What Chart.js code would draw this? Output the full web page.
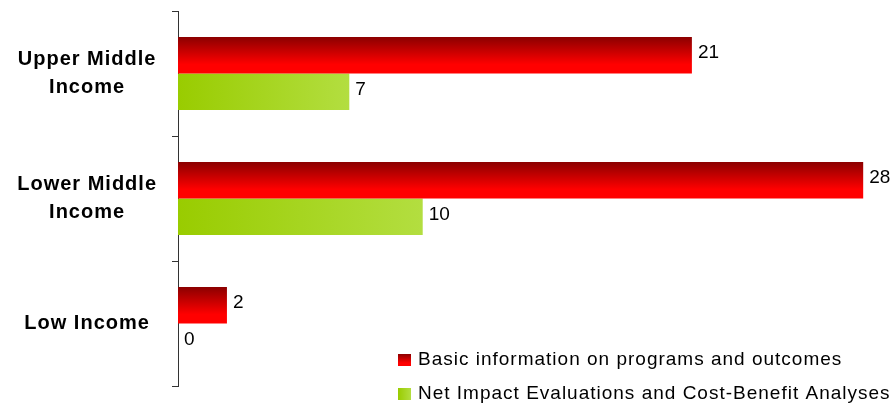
<!DOCTYPE html>
<html>
<head>
<meta charset="utf-8">
<script src="https://cdn.jsdelivr.net/npm/chart.js@4"></script>
<style>
  html, body { margin: 0; padding: 0; background: #fff; }
  #wrap { width: 896px; height: 405px; }
</style>
</head>
<body>
<div id="wrap"><canvas id="chart"></canvas></div>
<script>
// Data
const categories = [['Upper Middle', 'Income'], ['Lower Middle', 'Income'], 'Low Income'];
const basicInfo = [21, 28, 2];
const netImpact = [7, 10, 0];
const seriesNames = [
    'Basic information on programs and outcomes',
    'Net Impact Evaluations and Cost-Benefit Analyses'
];

const FONT = '"Liberation Sans", Arial, sans-serif';

// Gradient fills for the two series
function redFill(ctx, top, bottom) {
    const g = ctx.createLinearGradient(0, top, 0, bottom);
    g.addColorStop(0, '#8b0000');
    g.addColorStop(0.75, '#ff0000');
    g.addColorStop(1, '#ff0000');
    return g;
}
function greenFill(ctx, left, right) {
    const g = ctx.createLinearGradient(left, 0, right, 0);
    g.addColorStop(0, '#99cc00');
    g.addColorStop(1, '#b3de40');
    return g;
}

// The source text is spaced a bit wider than plain Arial
const spacing = {
    id: 'spacing',
    beforeLayout(chart) { chart.ctx.letterSpacing = '1px'; },
    beforeDraw(chart) { chart.ctx.letterSpacing = '1px'; }
};

// Put a gradient on every bar once it has its place
const fills = {
    id: 'fills',
    beforeDatasetsDraw(chart) {
        const ctx = chart.ctx;
        chart.data.datasets.forEach((ds, i) => {
            chart.getDatasetMeta(i).data.forEach(bar => {
                const p = bar.getProps(['x', 'y', 'base', 'height']);
                bar.options.backgroundColor = i === 0
                    ? redFill(ctx, p.y - p.height / 2, p.y + p.height / 2)
                    : greenFill(ctx, p.base, p.x);
            });
        });
    }
};

// Value labels at the end of each bar
const valueLabels = {
    id: 'valueLabels',
    afterDatasetsDraw(chart) {
        const ctx = chart.ctx;
        ctx.save();
        ctx.letterSpacing = '0px';
        ctx.font = '19px ' + FONT;
        ctx.fillStyle = '#000';
        ctx.textAlign = 'left';
        ctx.textBaseline = 'middle';
        chart.data.datasets.forEach((ds, i) => {
            chart.getDatasetMeta(i).data.forEach((bar, j) => {
                ctx.fillText(ds.data[j], bar.x + 6, bar.y - 2);
            });
        });
        ctx.restore();
    }
};

// Legend sits inside the plot, bottom right
const boxLegend = {
    id: 'boxLegend',
    afterDraw(chart, args, opts) {
        const ctx = chart.ctx;
        ctx.save();
        ctx.font = '19px ' + FONT;
        ctx.textAlign = 'left';
        ctx.textBaseline = 'middle';
        chart.data.datasets.forEach((ds, i) => {
            const x = opts.x, y = opts.y + i * opts.gap;
            ctx.fillStyle = i === 0 ? redFill(ctx, y, y + 12) : greenFill(ctx, x, x + 13);
            ctx.fillRect(x, y, 13, 12);
            ctx.fillStyle = '#000';
            ctx.fillText(ds.label, x + 20, y + 6);
        });
        ctx.restore();
    }
};

new Chart(document.getElementById('chart'), {
    type: 'bar',
    data: {
        labels: categories,
        datasets: [
            { label: seriesNames[0], data: basicInfo, backgroundColor: () => '#ff0000', borderWidth: 0 },
            { label: seriesNames[1], data: netImpact, backgroundColor: () => '#99cc00', borderWidth: 0 }
        ]
    },
    plugins: [spacing, fills, valueLabels, boxLegend],
    options: {
        indexAxis: 'y',
        responsive: true,
        maintainAspectRatio: false,
        animation: false,
        layout: { padding: { top: 11, bottom: 19, right: 1, left: 0 } },
        datasets: { bar: { categoryPercentage: 0.584, barPercentage: 1 } },
        scales: {
            x: { display: false, min: 0, max: 29.3 },
            y: {
                z: 1,
                border: { display: true, color: '#333', width: 1 },
                grid: { drawOnChartArea: false, drawTicks: true, tickLength: 6, color: '#333' },
                ticks: {
                    color: '#000',
                    font: { family: FONT, size: 20, weight: 'bold', lineHeight: 1.4 },
                    crossAlign: 'center',
                    padding: 15
                },
                afterFit(scale) {
                    // fixed label column, and no extra room for the tall labels
                    scale.width = 178;
                    scale.paddingTop = 0;
                    scale.paddingBottom = 0;
                }
            }
        },
        plugins: {
            legend: { display: false },
            tooltip: { enabled: false },
            boxLegend: { x: 398, y: 354, gap: 34 }
        }
    }
});
</script>
</body>
</html>
